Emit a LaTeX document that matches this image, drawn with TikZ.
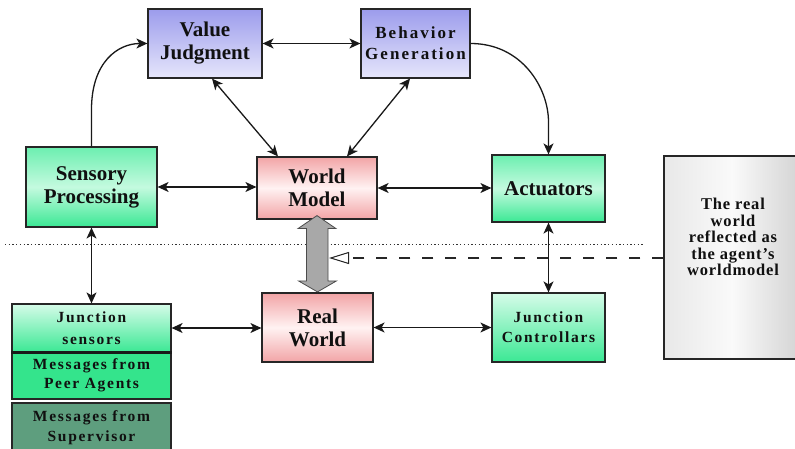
\documentclass[tikz,border=0pt]{standalone}
\usepackage{fontspec}
\setmainfont{Liberation Serif}
\usetikzlibrary{arrows.meta,calc}

\definecolor{ink}{HTML}{101010}
\definecolor{lavtop}{HTML}{9C9CEC}
\definecolor{lavbot}{HTML}{E6E6FB}
\definecolor{grntop}{HTML}{6CEFB0}
\definecolor{grnmid}{HTML}{C4FADF}
\definecolor{grnbot}{HTML}{3BE894}
\definecolor{pinkend}{HTML}{F2A4A6}
\definecolor{pinkmid}{HTML}{FFF2F2}
\definecolor{peer}{HTML}{34E48C}
\definecolor{superv}{HTML}{5E9E7E}
\definecolor{bigarrow}{HTML}{A8A8A8}

\newcommand\lblbig{\fontsize{21}{23}\selectfont\bfseries}
\newcommand\lblmid{\fontsize{17}{21}\selectfont\bfseries\addfontfeature{LetterSpace=12}}
\newcommand\lblsmall{\fontsize{15.5}{20}\selectfont\bfseries\addfontfeature{LetterSpace=11}}
\newcommand\lblnote{\fontsize{16.5}{16.5}\selectfont\bfseries\addfontfeature{LetterSpace=5}}

\begin{document}
\begin{tikzpicture}[x=1pt,y=-1pt,
  box/.style={draw=black!85, line width=1.2pt, rectangle, inner sep=0pt,
    align=center, text=ink},
  lav/.style={box, top color=lavtop, bottom color=lavbot, font=\lblbig},
  grn/.style={box, top color=grntop, bottom color=grnbot, middle color=grnmid, font=\lblbig},
  pnk/.style={box, top color=pinkend, bottom color=pinkend, middle color=pinkmid, font=\lblbig},
  junc/.style={box, top color=grnmid!70!white, bottom color=grnbot, font=\lblsmall},
  link/.style={line width=1.3pt, black!90},
  tip/.tip={Stealth[length=11pt,width=10pt,inset=3pt]},
  both/.style={link, tip-tip},
  toend/.style={link, -tip}
]
\clip (0,0) rectangle (795,449);
\fill[white] (0,0) rectangle (795,449);

% upper layer
\node[lav, minimum width=114pt, minimum height=69pt] (VJ) at (205,43.5) {Value\\Judgment};
\node[lav, font=\lblmid, minimum width=109pt, minimum height=69pt] (BG) at (415.5,43.5) {Behavior\\Generation};

% middle layer
\node[grn, minimum width=131pt, minimum height=80pt] (SP) at (91.5,187) {Sensory\\Processing};
\node[pnk, minimum width=120pt, minimum height=62pt] (WM) at (317,188) {World\\Model};
\node[grn, minimum width=113pt, minimum height=67pt] (AC) at (548.5,188.5) {Actuators};

% lower layer
\node[pnk, minimum width=111pt, minimum height=69pt] (RW) at (317.5,327.5) {Real\\World};
\node[junc, minimum width=113pt, minimum height=69pt] (JC) at (548.5,327.5) {Junction\\Controllars};
\node[junc, font=\fontsize{15.5}{22}\selectfont\bfseries\addfontfeature{LetterSpace=11},
  minimum width=159pt, minimum height=48pt] (JS) at (91.5,328) {Junction\\sensors};
\node[box, fill=peer, font=\fontsize{15.5}{19}\selectfont\bfseries\addfontfeature{LetterSpace=11},
  minimum width=159pt, minimum height=47pt] (PA) at (91.5,375.5) {Messages from\\Peer Agents};
\node[box, fill=superv, font=\lblsmall, minimum width=159pt, minimum height=50pt] (SV) at (91.5,428) {Messages from\\Supervisor};
\draw[line width=2.6pt, black!90] (JS.south west) -- (JS.south east);

% note box on the right
\node[box, left color=black!9, right color=black!17, middle color=black!2,
  minimum width=136pt, minimum height=203pt] (NB) at (732,257.5) {};
\node[font=\lblnote, text=ink, align=center] (NT) at (733,237)
  {The real\\world\\reflected as\\the agent's\\worldmodel};

% boundary between the model and the real world
\coordinate (DL) at (5,244);
\coordinate (DR) at (645,244);
\draw[line width=0.9pt, black!80, dash pattern=on 1.3pt off 2.4pt] (DL) -- (DR);

% connectors
\draw[toend] (SP.north) -- ++(0,-37) .. controls (91.5,62) and (118,43.5) .. (VJ.west);
\draw[toend] (BG.east) .. controls (522,43.5) and (548.5,88) .. (548.5,122) -- (AC.north);
\draw[both] (VJ.east) -- (BG.west);
\draw[both] ([xshift=7pt]VJ.south) -- ([xshift=-39pt]WM.north);
\draw[both] ([xshift=-5.5pt]BG.south) -- ([xshift=30pt]WM.north);
\draw[both] (SP.east) -- (SP.east -| WM.west);
\draw[both] (WM.east) -- (WM.east -| AC.west);
\draw[both] (SP.south) -- (JS.north);
\draw[both] (AC.south) -- (JC.north);
\draw[both] (JS.east) -- (JS.east -| RW.west);
\draw[both] (RW.east) -- (RW.east -| JC.west);

% the world model mirrors the real world
\coordinate (UT) at ($(WM.south)+(0,-4)$);
\coordinate (LT) at ($(RW.north)+(0,-0.5)$);
\draw[fill=bigarrow, draw=black!70, line width=0.8pt]
  (UT) -- ++(19,13) -- ++(-8,0) |- ($(LT)+(11,-11)$) -- ++(8,0) -- (LT)
  -- ++(-19,-11) -- ++(8,0) |- ($(UT)+(-11,13)$) -- ++(-8,0) -- cycle;

\coordinate (DT) at (329,258);
\draw[line width=1.2pt, black!85, dash pattern=on 11pt off 12pt,
  -{Triangle[open, length=20pt, width=12pt, line width=1pt]}] (NB.west |- DT) -- (DT);
\end{tikzpicture}
\end{document}
